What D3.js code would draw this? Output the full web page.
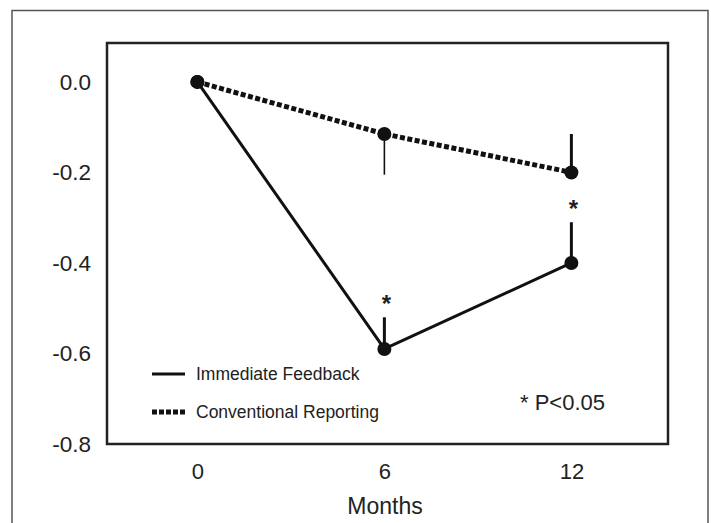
<!DOCTYPE html>
<html>
<head>
<meta charset="utf-8">
<script src="https://cdnjs.cloudflare.com/ajax/libs/d3/7.8.5/d3.min.js"></script>
<style>
  body { margin: 0; background: #fff; }
  text { font-family: "Liberation Sans", Arial, sans-serif; fill: #222; }
</style>
</head>
<body>
<div id="chart"></div>
<script>
// values
var months = [0, 6, 12];
var immediate = [0, -0.59, -0.40];
var conventional = [0, -0.115, -0.20];
// end point of each error bar (null = none drawn)
var immediateBar = [null, -0.52, -0.31];
var conventionalBar = [null, -0.205, -0.115];
var significant = [false, true, true];
var yTicks = [0, -0.2, -0.4, -0.6, -0.8];
var seriesNames = ["Immediate Feedback", "Conventional Reporting"];

var w = 711, h = 523;
var svg = d3.select("#chart").append("svg").attr("width", w).attr("height", h);

// outer frame
svg.append("rect").attr("x", 12).attr("y", 10.5).attr("width", 696).attr("height", 540)
   .attr("fill", "none").attr("stroke", "#555").attr("stroke-width", 1.5);

var x = d3.scaleLinear().domain([-2.9, 15.1]).range([107, 668]);
var y = d3.scaleLinear().domain([-0.8, 0.086]).range([444, 43]);

// y axis labels
var yAxis = svg.append("g").attr("transform", "translate(107,0)")
   .call(d3.axisLeft(y).tickValues(yTicks).tickSize(0).tickPadding(16)
        .tickFormat(function(d) { return d.toFixed(1).replace("-0.0", "0.0"); }));
yAxis.select(".domain").remove();
yAxis.selectAll("text").style("font-size", "22.5px").attr("fill", "#222")
   .style("font-family", "'Liberation Sans', Arial, sans-serif");

// x axis labels
var xAxis = svg.append("g").attr("transform", "translate(0,444)")
   .call(d3.axisBottom(x).tickValues(months).tickSize(0).tickPadding(19)
        .tickFormat(d3.format("d")));
xAxis.select(".domain").remove();
xAxis.selectAll("text").style("font-size", "22px").attr("fill", "#222")
   .style("font-family", "'Liberation Sans', Arial, sans-serif");

svg.append("text").attr("x", 385).attr("y", 514).attr("text-anchor", "middle")
   .style("font-size", "23px").text("Months");

// plot box
svg.append("rect").attr("x", 107).attr("y", 43).attr("width", 561).attr("height", 401)
   .attr("fill", "none").attr("stroke", "#222").attr("stroke-width", 2.5);

var line = d3.line().x(function(d) { return x(d[0]); }).y(function(d) { return y(d[1]); });

// error bars
function bars(vals, ends, widths) {
    svg.selectAll(null).data(months.map(function(m, i) { return [m, vals[i], ends[i], widths[i]]; })
        .filter(function(d) { return d[2] !== null; }))
      .enter().append("line")
      .attr("x1", function(d) { return x(d[0]); }).attr("x2", function(d) { return x(d[0]); })
      .attr("y1", function(d) { return y(d[1]); }).attr("y2", function(d) { return y(d[2]); })
      .attr("stroke", "#111").attr("stroke-width", function(d) { return d[3]; });
}
bars(immediate, immediateBar, [0, 3, 3]);
bars(conventional, conventionalBar, [0, 1.6, 3]);

// series lines
svg.append("path").datum(months.map(function(m, i) { return [m, immediate[i]]; }))
   .attr("d", line).attr("fill", "none").attr("stroke", "#111").attr("stroke-width", 3);
svg.append("path").datum(months.map(function(m, i) { return [m, conventional[i]]; }))
   .attr("d", line).attr("fill", "none").attr("stroke", "#111").attr("stroke-width", 5)
   .attr("stroke-dasharray", "5,2.5");

// markers
[immediate, conventional].forEach(function(s) {
    svg.selectAll(null).data(months.map(function(m, i) { return [m, s[i]]; }))
      .enter().append("circle")
      .attr("cx", function(d) { return x(d[0]); }).attr("cy", function(d) { return y(d[1]); })
      .attr("r", 7).attr("fill", "#111");
});

// significance stars
svg.selectAll(null).data(months.map(function(m, i) { return [m, immediateBar[i], significant[i]]; })
    .filter(function(d) { return d[2]; }))
  .enter().append("text")
  .attr("x", function(d) { return x(d[0]) + 2; })
  .attr("y", function(d) { return y(d[1]) - 5; })
  .attr("text-anchor", "middle").style("font-size", "24px").style("font-weight", "bold")
  .text("*");

// legend
var legend = svg.append("g");
legend.append("line").attr("x1", 152).attr("x2", 185).attr("y1", 374).attr("y2", 374)
   .attr("stroke", "#111").attr("stroke-width", 3);
legend.append("line").attr("x1", 152).attr("x2", 185).attr("y1", 412).attr("y2", 412)
   .attr("stroke", "#111").attr("stroke-width", 5).attr("stroke-dasharray", "5,2");
legend.selectAll("text").data(seriesNames).enter().append("text")
   .attr("x", 196).attr("y", function(d, i) { return 380 + i * 38; })
   .style("font-size", "17.5px").text(function(d) { return d; });

svg.append("text").attr("x", 605).attr("y", 410).attr("text-anchor", "end")
   .style("font-size", "22px").text("* P<0.05");
</script>
</body>
</html>
